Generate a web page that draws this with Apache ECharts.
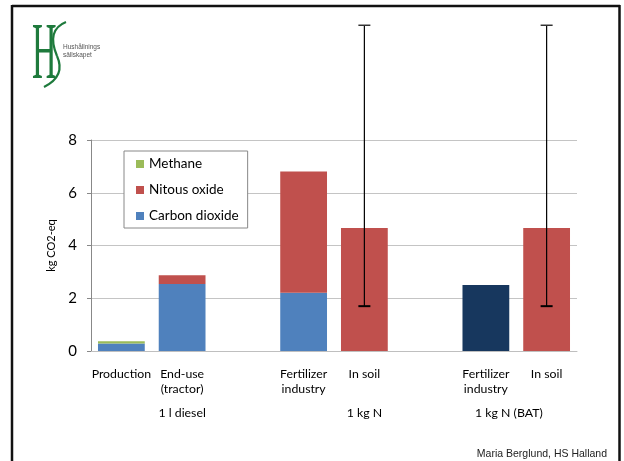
<!DOCTYPE html>
<html>
<head>
<meta charset="utf-8">
<script src="https://cdn.jsdelivr.net/npm/echarts@6/dist/echarts.min.js"></script>
<style>
  html, body { margin: 0; padding: 0; background: #fff; }
  #chart { width: 624px; height: 461px; }
</style>
</head>
<body>
<div id="chart"></div>
<script>
// Categories (empty slots act as gaps between groups)
const categories = ['Production', 'End-use\n(tractor)', '', 'Fertilizer\nindustry', 'In soil', '', 'Fertilizer\nindustry', 'In soil'];
const groupLabels = ['', '1 l diesel', '', '', '1 kg N', '', '1 kg N (BAT)', ''];

// kg CO2-eq
const carbonDioxide = [0.28, 2.54, null, 2.21, null, null, null, null];
const nitrousOxide = [null, 0.33, null, 4.60, 4.66, null, null, 4.66];
const methane = [0.09, null, null, null, null, null, null, null];
const batTotal = [null, null, null, null, null, null, 2.50, null];

// [category index, low, high]
const errorBars = [[4, 1.7, 12.35], [7, 1.7, 12.35]];

const yMin = 0, yMax = 8, yStep = 2;

const FONT = 'Lato';
const GREEN = '#1E7A3C';

const chart = echarts.init(document.getElementById('chart'));

function errorBarItem(params, api) {
  const x = api.value(0);
  const lo = api.coord([x, api.value(1)]);
  const hi = api.coord([x, api.value(2)]);
  const half = 6;
  const style = { stroke: '#000', lineWidth: 1.2 };
  return {
    type: 'group',
    children: [
      { type: 'line', shape: { x1: lo[0], y1: lo[1], x2: hi[0], y2: hi[1] }, style },
      { type: 'line', shape: { x1: lo[0] - half, y1: lo[1], x2: lo[0] + half, y2: lo[1] }, style: { stroke: '#000', lineWidth: 2 } },
      { type: 'line', shape: { x1: hi[0] - half, y1: hi[1], x2: hi[0] + half, y2: hi[1] }, style: { stroke: '#333', lineWidth: 1.5 } }
    ]
  };
}

const option = {
  backgroundColor: '#fff',
  animation: false,
  textStyle: { fontFamily: FONT },
  grid: { left: 91, right: 47, top: 140, bottom: 110 },
  legend: {
    data: ['Methane', 'Nitous oxide', 'Carbon dioxide'],
    orient: 'vertical',
    left: 124,
    top: 151,
    padding: [6, 9, 5, 12],
    itemGap: 12,
    itemWidth: 8,
    itemHeight: 8,
    icon: 'rect',
    borderColor: '#888',
    borderWidth: 1,
    backgroundColor: '#fff',
    textStyle: { fontFamily: FONT, fontSize: 13.5, color: '#000', lineHeight: 14 }
  },
  xAxis: [
    {
      type: 'category',
      data: categories,
      axisLine: { lineStyle: { color: '#bfbfbf' } },
      axisTick: { show: false },
      axisLabel: { interval: 0, margin: 16, fontSize: 12.3, lineHeight: 15, color: '#000', fontFamily: FONT }
    },
    {
      type: 'category',
      data: groupLabels,
      position: 'bottom',
      axisLine: { show: false },
      axisTick: { show: false },
      axisLabel: {
        interval: 0,
        margin: 56,
        fontSize: 12.3,
        color: '#000',
        fontFamily: FONT,
        formatter: (v) => v === '1 kg N (BAT)' ? '{s|' + v + '}' : v,
        rich: { s: { fontSize: 12.3, fontFamily: FONT, color: '#000', padding: [0, 0, 0, 46] } }
      }
    }
  ],
  yAxis: {
    type: 'value',
    min: yMin,
    max: yMax,
    interval: yStep,
    name: 'kg CO2-eq',
    nameLocation: 'middle',
    nameGap: 33,
    nameRotate: 90,
    nameTextStyle: { fontSize: 11, color: '#000', fontFamily: FONT },
    axisLine: { show: true, lineStyle: { color: '#888' } },
    axisTick: { show: true, length: 4, lineStyle: { color: '#888' } },
    axisLabel: { fontSize: 15, color: '#000', margin: 14, fontFamily: FONT },
    splitLine: { lineStyle: { color: '#c4c4c4' } }
  },
  series: [
    { name: 'Carbon dioxide', type: 'bar', stack: 'g', data: carbonDioxide, barWidth: '77%', itemStyle: { color: '#4F81BD' } },
    { name: 'Nitous oxide', type: 'bar', stack: 'g', data: nitrousOxide, itemStyle: { color: '#C0504D' } },
    { name: 'Methane', type: 'bar', stack: 'g', data: methane, itemStyle: { color: '#9BBB59' } },
    { name: 'BAT', type: 'bar', stack: 'g', data: batTotal, itemStyle: { color: '#17375E' } },
    {
      name: 'error', type: 'custom', data: errorBars, clip: false, z: 10,
      encode: { x: 0, y: [1, 2] },
      renderItem: errorBarItem
    }
  ],
  graphic: [
    // slide frame
    { type: 'line', shape: { x1: 12, y1: 6, x2: 620, y2: 6 }, style: { stroke: '#111', lineWidth: 2.5 } },
    { type: 'line', shape: { x1: 12, y1: 5, x2: 12, y2: 461 }, style: { stroke: '#111', lineWidth: 2.5 } },
    { type: 'line', shape: { x1: 619.5, y1: 5, x2: 619.5, y2: 461 }, style: { stroke: '#111', lineWidth: 2.5 } },
    // logo: H with a long S swash
    { type: 'text', x: 32, y: 17, scaleX: 0.85, scaleY: 2.0, style: { text: 'H', font: '40px "Liberation Serif"', fill: GREEN } },
    { type: 'bezierCurve', shape: { x1: 66, y1: 22, cpx1: 46, cpy1: 30, x2: 57, y2: 56 }, style: { stroke: GREEN, lineWidth: 2.2, fill: null } },
    { type: 'bezierCurve', shape: { x1: 57, y1: 56, cpx1: 66, cpy1: 76, x2: 44, y2: 87 }, style: { stroke: GREEN, lineWidth: 2.2, fill: null } },
    { type: 'text', x: 63, y: 43, style: { text: 'Hushållnings\nsällskapet', font: '6.5px "Liberation Sans"', fill: '#555', lineHeight: 8 } },
    // credit
    { type: 'text', right: 17, top: 449, style: { text: 'Maria Berglund, HS Halland', font: '10.5px "Liberation Sans"', fill: '#222' } }
  ]
};

chart.setOption(option);
</script>
</body>
</html>
